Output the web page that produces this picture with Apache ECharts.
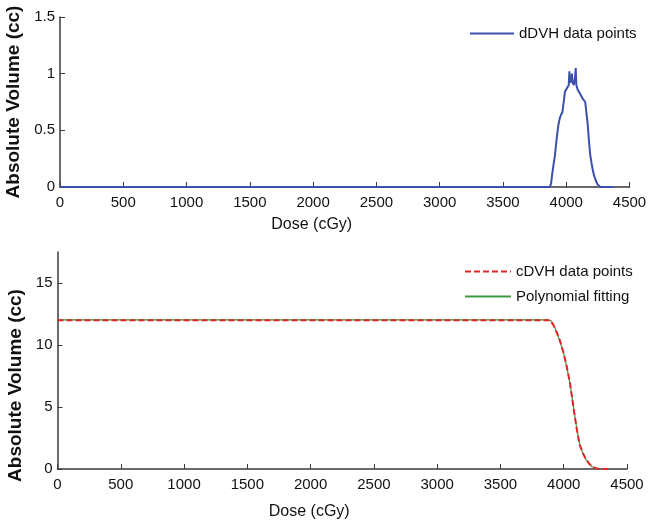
<!DOCTYPE html>
<html>
<head>
<meta charset="utf-8">
<script src="https://cdn.jsdelivr.net/npm/echarts@6/dist/echarts.min.js"></script>
<style>
html,body{margin:0;padding:0;background:#fff;}
#chart{width:654px;height:526px;}
</style>
</head>
<body>
<div id="chart"></div>
<script>
// ---- data ----
var xTicks = [0, 500, 1000, 1500, 2000, 2500, 3000, 3500, 4000, 4500];
var yTicksTop = [0, 0.5, 1, 1.5];
var yTicksBottom = [0, 5, 10, 15];

var dDose = [0, 3870, 3880, 3890, 3900, 3910, 3920, 3930, 3940, 3950, 3960, 3970, 3980, 3990, 4000, 4010, 4020, 4025, 4030, 4040, 4045, 4050, 4060, 4070, 4075, 4080, 4090, 4100, 4110, 4120, 4130, 4140, 4150, 4160, 4170, 4180, 4190, 4200, 4210, 4220, 4230, 4240, 4250, 4260, 4270, 4370];
var dVol  = [0, 0, 0.03, 0.12, 0.2, 0.27, 0.38, 0.48, 0.56, 0.61, 0.64, 0.66, 0.75, 0.84, 0.86, 0.87, 0.9, 1.02, 0.92, 0.95, 1.0, 0.92, 0.9, 0.97, 1.05, 0.9, 0.86, 0.84, 0.82, 0.8, 0.78, 0.77, 0.75, 0.74, 0.55, 0.4, 0.28, 0.21, 0.15, 0.1, 0.07, 0.04, 0.02, 0.01, 0, 0];

var cDose = [0, 3880, 3900, 3925, 3950, 3975, 4000, 4025, 4050, 4075, 4100, 4125, 4150, 4175, 4200, 4225, 4250, 4275, 4300, 4325, 4350, 4370];
var cVol  = [12.0, 12.0, 11.9, 11.5, 10.9, 10.2, 9.3, 8.2, 6.9, 5.1, 3.4, 2.0, 1.3, 0.8, 0.45, 0.2, 0.07, 0.02, 0.01, 0.0, 0.0, 0.0];

var pDose = [0, 3880, 3900, 3925, 3950, 3975, 4000, 4025, 4050, 4075, 4100, 4125, 4150, 4175, 4200, 4210, 4220, 4230, 4240, 4250, 4260];
var pVol  = [12.02, 12.02, 11.95, 11.5, 10.85, 10.15, 9.3, 8.2, 6.85, 5.15, 3.45, 2.05, 1.3, 0.78, 0.42, 0.3, 0.2, 0.24, 0.12, 0.18, 0.05];

function pairs(xs, ys) { return xs.map(function (x, i) { return [x, ys[i]]; }); }

var FONT = '"Liberation Sans", Arial, sans-serif';
var AXIS_COLOR = '#3a3a3a';
function plain(v) { return String(v); }

function xAxisCfg(gridIndex, gap) {
  return {
    type: 'value', gridIndex: gridIndex, min: 0, max: 4500, interval: 500,
    name: 'Dose (cGy)', nameLocation: 'middle', nameGap: gap,
    nameTextStyle: { fontFamily: FONT, fontSize: 16, color: '#111', padding: [0, 66, 0, 0] },
    axisLine: { show: true, lineStyle: { color: AXIS_COLOR, width: 1.5 } },
    axisTick: { show: true, inside: true, length: 5, customValues: xTicks, lineStyle: { color: AXIS_COLOR, width: 1 } },
    axisLabel: { customValues: xTicks, formatter: plain, margin: 8, fontFamily: FONT, fontSize: 15, color: '#111' },
    splitLine: { show: false }
  };
}

var option = {
  backgroundColor: '#ffffff',
  animation: false,
  grid: [
    { left: 60, right: 24.5, top: 17, height: 170, outerBoundsMode: 'none', containLabel: false },
    { left: 57.5, right: 27, top: 252, height: 217, outerBoundsMode: 'none', containLabel: false }
  ],
  xAxis: [ xAxisCfg(0, 30), xAxisCfg(1, 35) ],
  yAxis: [
    {
      type: 'value', gridIndex: 0, min: 0, max: 1.5, interval: 0.5,
      name: 'Absolute Volume (cc)', nameLocation: 'middle', nameGap: 31,
      nameTextStyle: { fontFamily: FONT, fontWeight: 'bold', fontSize: 19, color: '#111' },
      axisLine: { show: true, lineStyle: { color: AXIS_COLOR, width: 1.5 } },
      axisTick: { show: true, inside: true, length: 5, customValues: yTicksTop, lineStyle: { color: AXIS_COLOR, width: 1 } },
      axisLabel: { customValues: yTicksTop, formatter: plain, margin: 5, fontFamily: FONT, fontSize: 15, color: '#111' },
      splitLine: { show: false }
    },
    {
      type: 'value', gridIndex: 1, min: 0, max: 17.5,
      name: 'Absolute Volume (cc)', nameLocation: 'middle', nameGap: 28,
      nameTextStyle: { fontFamily: FONT, fontWeight: 'bold', fontSize: 19, color: '#111', padding: [0, 50, 0, 0] },
      axisLine: { show: true, lineStyle: { color: AXIS_COLOR, width: 1.5 } },
      axisTick: { show: true, inside: true, length: 5, customValues: yTicksBottom, lineStyle: { color: AXIS_COLOR, width: 1 } },
      axisLabel: { customValues: yTicksBottom, formatter: plain, margin: 5, fontFamily: FONT, fontSize: 15, color: '#111' },
      splitLine: { show: false }
    }
  ],
  legend: [
    {
      data: ['dDVH data points'], left: 464, top: 21, itemWidth: 44, itemHeight: 14, itemGap: 10,
      itemStyle: { opacity: 0 },
      textStyle: { fontFamily: FONT, fontSize: 15, color: '#111' }
    },
    {
      data: ['cDVH data points', 'Polynomial fitting'], orient: 'vertical', left: 459, top: 259,
      itemWidth: 46, itemHeight: 14, itemGap: 10,
      itemStyle: { opacity: 0 },
      textStyle: { fontFamily: FONT, fontSize: 15, color: '#111' }
    }
  ],
  series: [
    {
      name: 'dDVH data points', type: 'line', xAxisIndex: 0, yAxisIndex: 0,
      data: pairs(dDose, dVol), symbol: 'none',
      lineStyle: { color: '#3b50ae', width: 2 }, itemStyle: { color: '#3b50ae' }
    },
    {
      name: 'Polynomial fitting', type: 'line', xAxisIndex: 1, yAxisIndex: 1,
      data: pairs(pDose, pVol), symbol: 'none', z: 2,
      lineStyle: { color: '#3e9a3e', width: 1.2 }, itemStyle: { color: '#3e9a3e' }
    },
    {
      name: 'cDVH data points', type: 'line', xAxisIndex: 1, yAxisIndex: 1,
      data: pairs(cDose, cVol), symbol: 'none', z: 3,
      lineStyle: { color: '#e0262a', width: 2, type: [6, 3] }, itemStyle: { color: '#e0262a' }
    }
  ]
};

var chart = echarts.init(document.getElementById('chart'), null, { renderer: 'canvas' });
chart.setOption(option);
</script>
</body>
</html>
